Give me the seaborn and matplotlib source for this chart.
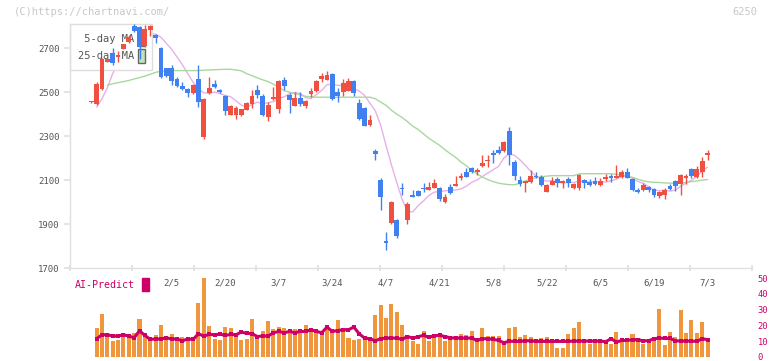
import numpy as np
import pandas as pd
import seaborn as sns
import matplotlib.pyplot as plt
from matplotlib.patches import Patch

# daily candles, 2025-01-15 .. 2025-07-03 (trading days)
opens = [2455, 2447, 2514, 2638, 2680, 2659, 2698, 2730, 2801, 2795,
         2710, 2783, 2760, 2700, 2609, 2609, 2560, 2529, 2515, 2495,
         2560, 2294, 2495, 2538, 2510, 2483, 2397, 2397, 2397, 2420,
         2447, 2510, 2483, 2389, 2469, 2424, 2556, 2488, 2438, 2474,
         2435, 2492, 2503, 2560, 2556, 2583, 2501, 2501, 2506, 2551,
         2451, 2428, 2351, 2230, 2101, 1824, 1905, 1920, 2062, 1920,
         2033, 2051, 2062, 2057, 2066, 2065, 1998, 2070, 2074, 2109,
         2138, 2156, 2135, 2165, 2188, 2224, 2238, 2230, 2321, 2183,
         2101, 2087, 2089, 2120, 2115, 2047, 2079, 2106, 2085, 2106,
         2065, 2065, 2101, 2092, 2094, 2079, 2106, 2120, 2111, 2115,
         2138, 2106, 2056, 2053, 2070, 2061, 2029, 2033, 2074, 2097,
         2083, 2111, 2151, 2115, 2138, 2214]
highs = [2460, 2545, 2655, 2652, 2700, 2685, 2720, 2760, 2810, 2800,
         2806, 2805, 2765, 2707, 2612, 2624, 2570, 2548, 2518, 2535,
         2623, 2475, 2568, 2556, 2515, 2486, 2442, 2438, 2425, 2455,
         2510, 2533, 2490, 2457, 2523, 2555, 2568, 2495, 2500, 2500,
         2462, 2518, 2555, 2588, 2597, 2588, 2519, 2560, 2565, 2556,
         2470, 2433, 2397, 2241, 2109, 1865, 2005, 1925, 2088, 2002,
         2056, 2055, 2088, 2092, 2106, 2068, 2038, 2084, 2120, 2133,
         2156, 2160, 2156, 2216, 2215, 2238, 2256, 2280, 2340, 2190,
         2120, 2097, 2147, 2138, 2124, 2081, 2115, 2115, 2099, 2115,
         2085, 2126, 2104, 2106, 2115, 2110, 2129, 2129, 2170, 2147,
         2156, 2110, 2065, 2088, 2072, 2065, 2050, 2065, 2083, 2100,
         2129, 2129, 2156, 2165, 2206, 2238]
lows = [2452, 2440, 2510, 2636, 2624, 2639, 2695, 2725, 2775, 2650,
        2705, 2756, 2723, 2565, 2570, 2533, 2525, 2510, 2477, 2493,
        2432, 2286, 2490, 2520, 2498, 2397, 2394, 2378, 2390, 2418,
        2427, 2473, 2393, 2371, 2465, 2407, 2510, 2407, 2435, 2435,
        2430, 2480, 2500, 2548, 2553, 2465, 2453, 2483, 2503, 2483,
        2374, 2345, 2344, 2192, 1965, 1783, 1900, 1835, 2033, 1902,
        2023, 2027, 2048, 2055, 2064, 2007, 1996, 2037, 2071, 2101,
        2114, 2132, 2124, 2159, 2159, 2177, 2218, 2228, 2170, 2101,
        2071, 2044, 2087, 2110, 2072, 2045, 2077, 2070, 2065, 2070,
        2058, 2056, 2065, 2072, 2078, 2072, 2097, 2092, 2110, 2111,
        2108, 2051, 2043, 2050, 2047, 2024, 2020, 2015, 2056, 2051,
        2033, 2083, 2111, 2110, 2115, 2192]
closes = [2457, 2538, 2650, 2650, 2632, 2670, 2718, 2753, 2780, 2707,
          2786, 2801, 2745, 2571, 2575, 2550, 2529, 2514, 2495, 2533,
          2457, 2470, 2518, 2523, 2501, 2415, 2438, 2427, 2423, 2450,
          2483, 2488, 2397, 2442, 2477, 2551, 2529, 2465, 2474, 2447,
          2460, 2507, 2551, 2574, 2579, 2470, 2483, 2542, 2551, 2497,
          2379, 2348, 2374, 2220, 2021, 1812, 2001, 1847, 2058, 1993,
          2025, 2029, 2059, 2070, 2088, 2015, 2024, 2039, 2083, 2120,
          2116, 2135, 2147, 2179, 2192, 2212, 2221, 2274, 2212, 2120,
          2083, 2094, 2119, 2112, 2076, 2079, 2097, 2085, 2097, 2085,
          2083, 2121, 2085, 2079, 2081, 2097, 2115, 2111, 2117, 2138,
          2111, 2056, 2047, 2079, 2056, 2033, 2047, 2053, 2061, 2074,
          2124, 2117, 2120, 2151, 2188, 2221]

# 5-day MA (from day 1), 25-day MA (from day 3)
ma5 = [2432, 2470, 2520,
       2585, 2628, 2664, 2685, 2711, 2726, 2749, 2765, 2764, 2750,
       2722, 2695, 2660, 2625, 2585, 2545, 2515, 2497, 2495, 2500,
       2494, 2485, 2479, 2461, 2441, 2431, 2444, 2454, 2448, 2452,
       2457, 2471, 2479, 2493, 2499, 2493, 2475, 2471, 2488, 2508,
       2534, 2536, 2531, 2530, 2525, 2515, 2505, 2485, 2450, 2415,
       2350, 2258, 2170, 2090, 2013, 1958, 1955, 1984, 2005, 2030,
       2045, 2048, 2051, 2053, 2055, 2060, 2072, 2090, 2101, 2117,
       2132, 2147, 2162, 2200, 2220, 2212, 2192, 2167, 2140, 2118,
       2102, 2095, 2097, 2090, 2087, 2089, 2089, 2094, 2094, 2091,
       2090, 2093, 2091, 2097, 2104, 2116, 2118, 2107, 2094, 2086,
       2070, 2054, 2052, 2054, 2050, 2054, 2072, 2086, 2099, 2117,
       2140, 2159]
ma25 = [2532, 2538, 2543, 2548, 2553, 2560, 2566, 2573, 2581, 2590,
        2595, 2597, 2598, 2598, 2598, 2598, 2598, 2598, 2600, 2601,
        2602, 2603, 2604, 2604, 2601, 2597, 2584, 2575, 2565, 2556,
        2548, 2536, 2523, 2506, 2500, 2493, 2488, 2481, 2479, 2477,
        2477, 2477, 2477, 2477, 2477, 2477, 2477, 2477, 2477, 2477,
        2470, 2455, 2440, 2418, 2400, 2385, 2366, 2345, 2330, 2310,
        2290, 2274, 2258, 2238, 2220, 2203, 2182, 2165, 2145, 2128,
        2114, 2102, 2093, 2086, 2082, 2079, 2079, 2085, 2096, 2105,
        2111, 2115, 2118, 2120, 2120, 2120, 2120, 2120, 2128, 2129,
        2129, 2129, 2129, 2129, 2129, 2126, 2122, 2120, 2112, 2104,
        2097, 2092, 2090, 2089, 2087, 2086, 2086, 2087, 2089, 2093,
        2096, 2100, 2102]

# lower panel (from day 1), right-axis scale
volume = [18.5, 27.3, 12.7, 9.9, 10.5, 14.1, 14.7, 15.4, 24.2, 12.7,
          10.5, 14.1, 20.4, 12.0, 14.7, 11.6, 12.7, 10.5, 13.0, 34.4,
          49.9, 19.8, 11.2, 10.5, 19.3, 18.5, 13.0, 10.5, 11.6, 24.2,
          13.0, 16.2, 23.1, 17.9, 19.3, 18.5, 16.8, 17.9, 17.9, 20.0,
          18.5, 16.8, 15.8, 17.9, 15.8, 23.5, 17.3, 12.2, 11.0, 11.6,
          12.2, 12.0, 26.7, 32.9, 24.8, 33.8, 28.7, 20.0, 14.1, 9.9,
          8.5, 16.2, 9.9, 13.7, 14.1, 9.9, 11.6, 11.6, 14.7, 14.1,
          16.2, 10.5, 18.5, 13.3, 13.3, 13.3, 8.0, 18.5, 19.1, 12.9,
          13.7, 12.9, 9.7, 12.2, 12.9, 11.2, 6.0, 6.0, 14.7, 18.5,
          22.5, 11.6, 8.5, 9.9, 9.9, 9.9, 8.5, 16.0, 11.6, 9.9,
          14.7, 12.2, 8.5, 9.9, 11.6, 30.4, 7.8, 16.0, 12.9, 29.8,
          15.4, 23.5, 15.4, 22.3, 11.6]
ai_predict = [11.6, 14.1, 14.1, 13.3, 13.3, 14.1, 13.3, 12.2, 16.6, 13.7,
              11.2, 11.4, 11.4, 12.2, 11.4, 11.4, 10.3, 11.4, 11.2, 14.7,
              13.3, 14.3, 14.1, 14.5, 13.7, 14.3, 14.1, 15.8, 15.0, 14.8,
              13.0, 13.3, 13.3, 15.4, 16.2, 15.4, 16.2, 15.4, 16.2, 16.2,
              17.3, 16.2, 15.4, 19.0, 16.2, 16.8, 17.3, 17.3, 19.0, 14.7,
              12.0, 11.6, 10.3, 11.6, 12.0, 12.0, 12.0, 11.2, 13.0, 12.0,
              12.9, 13.7, 12.5, 13.5, 13.7, 13.0, 12.2, 12.0, 12.0, 12.0,
              12.0, 10.5, 11.6, 11.6, 11.2, 10.5, 9.1, 10.0, 9.9, 9.9,
              10.3, 10.3, 9.9, 9.9, 9.9, 9.9, 9.9, 9.9, 9.9, 10.1,
              10.1, 10.1, 10.1, 10.1, 10.1, 9.7, 11.6, 9.5, 10.5, 10.5,
              11.0, 11.0, 10.3, 10.3, 11.6, 12.0, 11.8, 11.8, 10.3, 10.1,
              10.1, 10.1, 9.9, 11.6, 11.0]

date_labels = ['2/5', '2/20', '3/7', '3/24', '4/7', '4/21', '5/8', '5/22', '6/5', '6/19', '7/3']
date_days = [15, 25, 35, 45, 55, 65, 75, 85, 95, 105, 115]

RED = '#f05040'
BLUE = '#4080f0'
PINK = '#e8b0e8'
GREEN = '#a8d8a0'
ORANGE = '#f0963c'
CRIMSON = '#cc0066'
TXT = '#555555'
AXC = '#e0e0e0'

sns.set_theme(style='white')
plt.rcParams['font.family'] = ['DejaVu Sans Mono']

df = pd.DataFrame({'open': opens, 'high': highs, 'low': lows, 'close': closes})
df['day'] = np.arange(len(df))
cols = np.where(df['close'] >= df['open'], RED, BLUE)

W, H = 772, 361
fig = plt.figure(figsize=(W / 100, H / 100), dpi=100)
ax = fig.add_axes([70 / W, 93 / H, 682 / W, 244 / H])
ax2 = fig.add_axes([70 / W, 4 / H, 682 / W, 87 / H])
x0, x1 = -3.97, 123.3

# price panel: MA lines under the legend, candles over it
sns.lineplot(x=np.arange(1, 1 + len(ma5)), y=ma5, ax=ax, color=PINK, lw=1, zorder=1)
sns.lineplot(x=np.arange(3, 3 + len(ma25)), y=ma25, ax=ax, color=GREEN, lw=1, zorder=1)
ax.vlines(df['day'], df['low'], df['high'], colors=cols, lw=1, zorder=3)
body = np.maximum((df['close'] - df['open']).abs(), 4)
ax.bar(df['day'], body, bottom=np.minimum(df['open'], df['close']), width=0.9,
       color=cols, linewidth=0, zorder=4)

ax.set_xlim(x0, x1)
ax.set_ylim(1700, 2810)
ax.set_xlabel('')
ax.set_ylabel('')
for s in ['top', 'right']:
    ax.spines[s].set_visible(False)
for s in ['left', 'bottom']:
    ax.spines[s].set_color(AXC)
    ax.spines[s].set_linewidth(1)
ax.set_yticks([1700, 1900, 2100, 2300, 2500, 2700])
ax.tick_params(axis='y', length=4.5, color=AXC, labelcolor=TXT, labelsize=6.5, pad=3, left=True)
ax.set_xticks(np.linspace(x0, x1, 12))
ax.set_xticklabels([])
ax.tick_params(axis='x', which='major', direction='inout', length=4, color=AXC, bottom=True)
ax.set_xticks(date_days, minor=True)
ax.set_xticklabels(date_labels, minor=True)
ax.tick_params(axis='x', which='minor', length=0, labelcolor=TXT, labelsize=6.5, pad=7.5)

leg = ax.legend(handles=[Patch(facecolor=PINK, edgecolor='#666666'),
                         Patch(facecolor='#c0e4b8', edgecolor='#666666')],
                labels=[' 5-day MA', '25-day MA'], loc='upper left',
                bbox_to_anchor=(0, 1), borderaxespad=0, markerfirst=False,
                handlelength=0.64, handleheight=1.75, handletextpad=0.4,
                labelspacing=0.25, borderpad=0.72, fontsize=7.5, fancybox=False,
                labelcolor=TXT, framealpha=1)
leg.get_frame().set_edgecolor('#dddddd')
leg.get_frame().set_linewidth(1)
leg.set_zorder(2)

# lower panel
vdf = pd.DataFrame({'day': np.arange(1, 1 + len(volume)), 'vol': volume, 'ai': ai_predict})
sns.barplot(data=vdf, x='day', y='vol', native_scale=True, color=ORANGE, saturation=1,
            width=0.75, linewidth=0, errorbar=None, ax=ax2, zorder=2)
sns.lineplot(data=vdf, x='day', y='ai', ax=ax2, color=CRIMSON, lw=2.2, marker='s',
             markersize=2.5, markeredgewidth=0, zorder=3)
ax2.set_xlim(x0, x1)
ax2.set_ylim(0, 55.2)
ax2.patch.set_visible(False)
for s in ax2.spines.values():
    s.set_visible(False)
ax2.set_xlabel('')
ax2.set_ylabel('')
ax2.set_xticks([])
ax2.yaxis.tick_right()
ax2.set_yticks([0, 10, 20, 30, 40, 50])
ax2.tick_params(axis='y', length=0, labelcolor=CRIMSON, labelsize=6.3, pad=4)

ax2.legend(handles=[Patch(color=CRIMSON)], labels=['AI-Predict'], loc='upper left',
           bbox_to_anchor=(75 / W, 1 - 278 / H), bbox_transform=fig.transFigure,
           borderaxespad=0, markerfirst=False, frameon=False, handlelength=0.67,
           handleheight=1.6, handletextpad=0.7, borderpad=0, fontsize=7.2,
           labelcolor=CRIMSON)

fig.text(14 / W, 1 - 12 / H, '(C)https://chartnavi.com/', color='#c8c8c8', fontsize=7.5, va='center')
fig.text(757 / W, 1 - 12 / H, '6250', color='#c8c8c8', fontsize=7.5, va='center', ha='right')

fig.savefig('out.png', dpi=100, facecolor='white')
